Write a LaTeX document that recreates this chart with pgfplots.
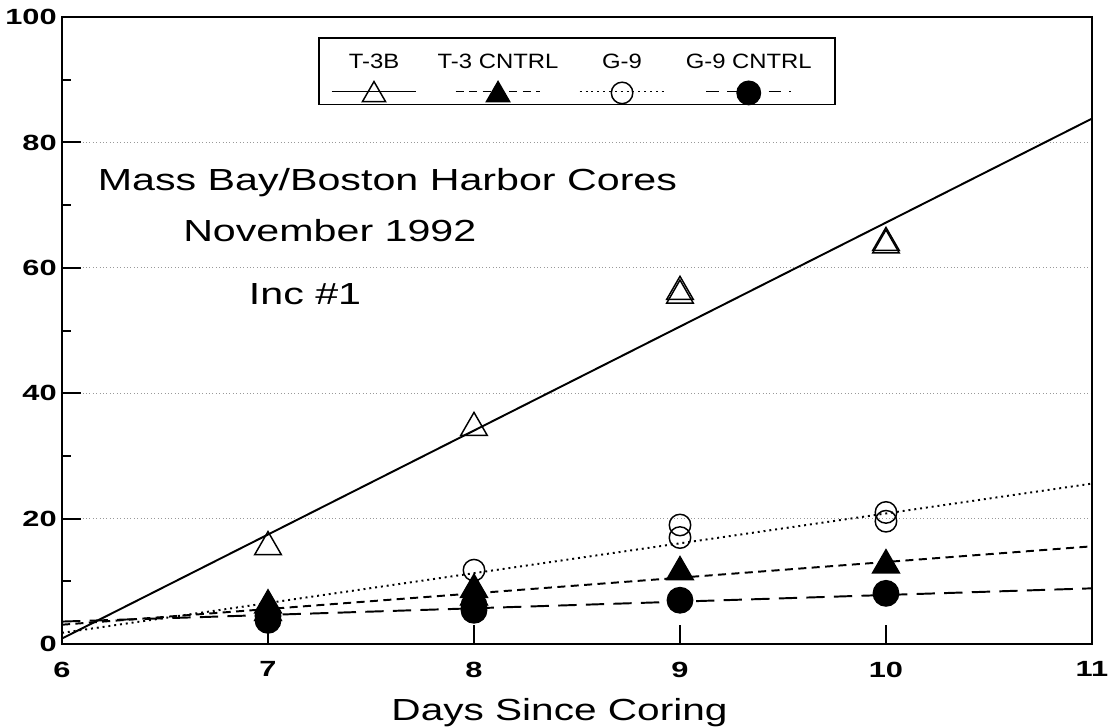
\documentclass[border=0pt]{standalone}
\usepackage{fontspec}
\setmainfont{Liberation Sans}
\usepackage{graphicx}
\usepackage{pgfplots}
\pgfplotsset{compat=1.18}

\pgfplotstableread{
x y
7 15.5
8 34.5
9 56.2
9 55.6
10 63.6
10 64.0
}\tthreeb
\pgfplotstableread{
x y
7 6.2
7 5.0
8 8.7
8 7.5
9 11.5
10 12.6
}\tthreec
\pgfplotstableread{
x y
7 4.5
8 11.8
9 19.0
9 17.0
10 21.0
10 19.6
}\gnine
\pgfplotstableread{
x y
7 3.8
7 4.5
8 5.4
8 6.2
9 7.0
10 8.1
}\gninec

\begin{document}
\begin{tikzpicture}
\begin{axis}[
  name=ax,
  scale only axis,
  width=14.83cm, height=9.03cm,
  xmin=6, xmax=11, ymin=0, ymax=100,
  xtick={6,7,8,9,10,11},
  ytick={0,20,40,60,80,100},
  minor ytick={10,30,50,70,90},
  xtick pos=bottom, ytick pos=left,
  tick align=inside,
  major tick length=0.28cm,
  minor tick length=0.13cm,
  ymajorgrids,
  grid style={black!40, densely dotted, line width=0.5pt},
  axis line style={line width=0.8pt},
  tick style={black, line width=0.8pt},
  /pgf/number format/assume math mode=true,
  ticklabel style={font=\bfseries\fontsize{9}{10}\selectfont},
  xticklabel={\scalebox{1.4}[1]{\pgfmathprintnumber{\tick}}},
  yticklabel={\scalebox{1.4}[1]{\pgfmathprintnumber{\tick}}},
  yticklabel style={anchor=east, inner sep=0pt, xshift=-2pt},
  xticklabel style={anchor=north, inner sep=0pt, yshift=-7pt},
  xlabel={\scalebox{1.33}[1]{Days Since Coring}},
  xlabel style={font=\fontsize{12.5}{14}\selectfont, at={(axis description cs:0.483,0)}, anchor=north, yshift=-18.5pt},
  legend columns=4,
  legend style={at={(0.5,0.968)}, anchor=north, draw=black, line width=0.6pt,
    inner xsep=0.17cm, inner ysep=0pt, column sep=0.13cm,
    nodes={inner sep=0pt}},
]
% fitted lines
\addplot[forget plot, black, line width=0.8pt, solid] coordinates {(6,0.9) (11,83.8)};
\addplot[forget plot, black, line width=0.8pt, dash pattern=on 3.3pt off 2.2pt] coordinates {(6,3.1) (11,15.6)};
\addplot[forget plot, black, line width=0.8pt, dash pattern=on 0.8pt off 1.6pt] coordinates {(6,1.8) (11,25.6)};
\addplot[forget plot, black, line width=0.8pt, dash pattern=on 7.5pt off 3.8pt] coordinates {(6,3.6) (11,8.9)};

% data
\addplot[only marks, black, mark=triangle, mark size=6.3pt, mark options={line width=0.6pt, fill=white},
  legend image code/.code={
    \path (0cm,-0.158cm) (0cm,0.763cm);
    \draw[black, solid, line width=0.7pt] (0cm,0cm) -- (1.22cm,0cm);
    \draw[black, only marks, mark=triangle, mark size=5.5pt, mark options={line width=0.6pt, fill=white}] plot coordinates {(0.61cm,-0.05cm)};
    \node[font=\fontsize{8.5}{10}\selectfont, anchor=base, inner sep=0pt] at (0.61cm,0.331cm) {\scalebox{1.15}[1]{T-3B}};
  }] table[x=x,y=y] {\tthreeb};
\addlegendentry{}
\addplot[only marks, black, mark=triangle*, mark size=6.3pt, mark options={line width=0.6pt, fill=black},
  legend image code/.code={
    \path (0cm,-0.158cm) (0cm,0.763cm);
    \draw[black, line width=0.7pt, dash pattern=on 3.3pt off 2.2pt] (0cm,0cm) -- (1.22cm,0cm);
    \draw[black, only marks, mark=triangle*, mark size=5.5pt, mark options={solid, line width=0.6pt, fill=black}] plot coordinates {(0.61cm,-0.05cm)};
    \node[font=\fontsize{8.5}{10}\selectfont, anchor=base, inner sep=0pt] at (0.61cm,0.331cm) {\scalebox{1.15}[1]{T-3 CNTRL}};
  }] table[x=x,y=y] {\tthreec};
\addlegendentry{}
\addplot[only marks, black, mark=o, mark size=4.4pt, mark options={line width=0.6pt, fill=white},
  legend image code/.code={
    \path (0cm,-0.158cm) (0cm,0.763cm);
    \draw[black, line width=0.7pt, dash pattern=on 0.8pt off 1.6pt] (0cm,0cm) -- (1.22cm,0cm);
    \draw[black, only marks, mark=o, mark size=4.4pt, mark options={solid, line width=0.6pt}] plot coordinates {(0.61cm,-0.02cm)};
    \node[font=\fontsize{8.5}{10}\selectfont, anchor=base, inner sep=0pt] at (0.61cm,0.331cm) {\scalebox{1.15}[1]{G-9}};
  }] table[x=x,y=y] {\gnine};
\addlegendentry{}
\addplot[only marks, black, mark=*, mark size=5.2pt, mark options={line width=0.6pt, fill=black},
  legend image code/.code={
    \path (0cm,-0.158cm) (0cm,0.763cm);
    \draw[black, line width=0.7pt, dash pattern=on 5pt off 3.5pt] (0cm,0cm) -- (1.22cm,0cm);
    \draw[black, only marks, mark=*, mark size=4.8pt, mark options={solid, fill=black}] plot coordinates {(0.61cm,-0.02cm)};
    \node[font=\fontsize{8.5}{10}\selectfont, anchor=base, inner sep=0pt] at (0.61cm,0.331cm) {\scalebox{1.15}[1]{G-9 CNTRL}};
  }] table[x=x,y=y] {\gninec};
\addlegendentry{}

\node[font=\fontsize{12.5}{14}\selectfont, anchor=base] at (rel axis cs:0.316,0.724) {\scalebox{1.35}[1]{Mass Bay/Boston Harbor Cores}};
\node[font=\fontsize{12.5}{14}\selectfont, anchor=base] at (rel axis cs:0.260,0.642) {\scalebox{1.35}[1]{November 1992}};
\node[font=\fontsize{12.5}{14}\selectfont, anchor=base] at (rel axis cs:0.236,0.541) {\scalebox{1.35}[1]{Inc \#1}};
\end{axis}
\pgfresetboundingbox
\path[use as bounding box] ([shift={(-0.893cm,-1.181cm)}]ax.south west) rectangle ([shift={(0.274cm,0.245cm)}]ax.north east);
\end{tikzpicture}
\end{document}
